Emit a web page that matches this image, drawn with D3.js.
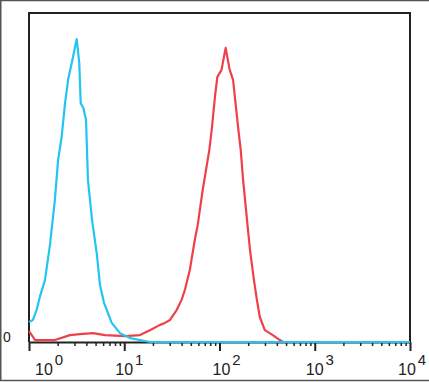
<!DOCTYPE html>
<html>
<head>
<meta charset="utf-8">
<script src="https://cdn.jsdelivr.net/npm/d3@7/dist/d3.min.js"></script>
<style>
  body { margin: 0; background: #fff; }
  svg { display: block; }
</style>
</head>
<body>
<div id="wrapper"></div>
<script>
// fluorescence intensity (log axis) and event counts (% of max)
var blueX = [1.00,1.10,1.20,1.30,1.47,1.66,1.87,2.02,2.20,2.39,2.59,2.81,3.17,3.37,3.49,3.72,3.97,4.03,4.16,4.59,5.17,5.56,6.13,6.75,7.38,9.02,11.5,18.6,10000];
var blueY = [6.1,6.7,9.7,13.7,18.8,29.5,43.2,55.3,62.3,72.6,80.2,84.8,92.1,84.8,72.6,71.1,67.5,61.4,49.2,37.1,26.4,17.3,11.9,8.8,5.8,2.7,1.2,0,0];

var redX = [1.00,1.16,1.87,2.69,3.43,4.69,6.27,10.2,14.6,18.6,23.7,26.7,30.2,35.5,40.0,43.3,48.8,55.0,59.1,66.6,78.2,82.8,89.6,94.8,105,116,128,139,145,158,167,177,190,209,230,247,265,299,363,430,465,10000];
var redY = [3.3,0.6,0.6,2.1,2.4,2.7,2.1,1.8,2.1,3.6,5.2,5.8,6.7,9.7,12.8,15.8,21.9,31.0,35.6,46.2,58.4,64.4,74.5,80.5,82.7,89.4,82.7,79.6,74.5,64.4,58.4,49.2,40.1,28.0,18.8,12.8,7.6,3.6,2.1,0.6,0,0];

var majorTicks = [1,10,100,1000,10000];
var tickExp = ["0","1","2","3","4"];
var yTicks = [0];

(function() {
  var W = 429, H = 382;
  var mL = 29, mR = 410, mT = 13, mB = 342;

  var svg = d3.select('#wrapper').append('svg')
    .attr('width', W).attr('height', H);

  // picture border (top, left, bottom)
  svg.append('path')
    .attr('d', 'M' + W + ',0.5 H0.75 V' + (H - 1.5) + ' H' + W)
    .attr('fill', 'none').attr('stroke', '#555').attr('stroke-width', 1.5);

  var x = d3.scaleLog().domain([1, 10000]).range([mL, mR]);
  var y = d3.scaleLinear().domain([0, 100]).range([mB, mT]);

  var minorTicks = [];
  for (var d = 1; d < 10000; d *= 10) {
    for (var k = 2; k <= 9; k++) minorTicks.push(d * k);
  }

  // minor ticks
  svg.append('g')
    .attr('transform', 'translate(0,' + mB + ')')
    .call(d3.axisBottom(x).tickValues(minorTicks).tickSize(4).tickSizeOuter(0).tickFormat(''))
    .call(function(g) {
      g.select('.domain').remove();
      g.selectAll('line').attr('stroke', '#222').attr('stroke-width', 1.5);
    });

  // major ticks + axis line
  svg.append('g')
    .attr('transform', 'translate(0,' + mB + ')')
    .call(d3.axisBottom(x).tickValues(majorTicks).tickSize(9).tickSizeOuter(0).tickFormat(''))
    .call(function(g) {
      g.select('.domain').attr('stroke', '#222').attr('stroke-width', 2);
      g.selectAll('line').attr('stroke', '#222').attr('stroke-width', 2);
    });

  // frame: left, top, right
  svg.append('path')
    .attr('d', 'M' + mL + ',' + mB + ' V' + mT + ' H' + mR + ' V' + mB)
    .attr('fill', 'none').attr('stroke', '#222').attr('stroke-width', 2);

  // tick labels 10^n
  var labelDx = [6, -9, -7, -9, -12];
  var lab = svg.append('g').selectAll('text')
    .data(majorTicks)
    .enter().append('text')
    .attr('x', function(d, i) { return x(d) + labelDx[i]; })
    .attr('y', 375)
    .attr('text-anchor', 'start')
    .style('font-family', 'Liberation Sans, Arial, sans-serif')
    .style('font-size', '16px')
    .style('fill', '#222');
  lab.append('tspan').text('10');
  lab.append('tspan')
    .attr('dx', 2).attr('dy', -10)
    .style('font-size', '15px')
    .text(function(d, i) { return tickExp[i]; });

  // y label
  svg.append('g').selectAll('text')
    .data(yTicks)
    .enter().append('text')
    .attr('x', 7).attr('y', function(d) { return y(d); })
    .attr('text-anchor', 'middle')
    .style('font-family', 'Liberation Sans, Arial, sans-serif')
    .style('font-size', '14px')
    .style('fill', '#222')
    .text(function(d) { return d; });

  var line = d3.line()
    .x(function(d) { return x(d[0]); })
    .y(function(d) { return y(d[1]); });

  svg.append('path')
    .datum(d3.zip(redX, redY))
    .attr('d', line)
    .attr('fill', 'none')
    .attr('stroke', '#ef4049')
    .attr('stroke-width', 2.2)
    .attr('stroke-linejoin', 'round');

  svg.append('path')
    .datum(d3.zip(blueX, blueY))
    .attr('d', line)
    .attr('fill', 'none')
    .attr('stroke', '#22c4f4')
    .attr('stroke-width', 2.2)
    .attr('stroke-linejoin', 'round');
})();
</script>
</body>
</html>
